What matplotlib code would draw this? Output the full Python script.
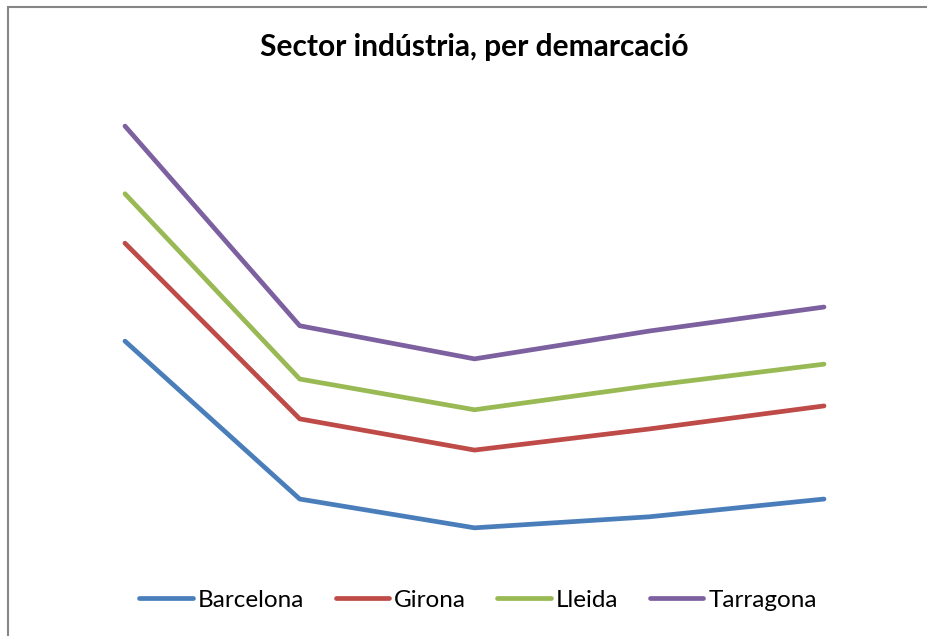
import matplotlib
matplotlib.use("Agg")
import matplotlib.pyplot as plt
from matplotlib.patches import Rectangle

categories = ["1", "2", "3", "4", "5"]
barcelona = [45.6, 12.7, 6.7, 9.0, 12.7]
girona = [66.0, 29.4, 22.9, 27.3, 32.1]
lleida = [76.3, 37.7, 31.3, 36.3, 40.8]
tarragona = [90.4, 48.8, 41.9, 47.7, 52.7]
series_names = ["Barcelona", "Girona", "Lleida", "Tarragona"]
colors = ["#4A7EBB", "#BE4B48", "#98B954", "#7D60A0"]

W, H = 928, 636
fig = plt.figure(figsize=(W / 100, H / 100), dpi=100)
fig.patch.set_facecolor("white")

# chart border
fig.patches.append(Rectangle((7.5 / W, -0.1), 1.2, 1.1 - 6.5 / H,
                             transform=fig.transFigure, fill=False,
                             edgecolor="#868686", linewidth=1.5))

ax = fig.add_axes([37.6 / W, (H - 560) / H, (911.4 - 37.6) / W, 480 / H])
x = list(range(len(categories)))
for name, vals, c in zip(series_names, [barcelona, girona, lleida, tarragona], colors):
    ax.plot(x, vals, color=c, linewidth=3.4, solid_capstyle="round",
            solid_joinstyle="round", label=name)
ax.set_xlim(-0.5, 4.5)
ax.set_ylim(0, 100)
ax.axis("off")

fig.text(474 / W, 1 - 47 / H, "Sector indústria, per demarcació",
         ha="center", va="center", fontsize=21.5, fontweight="bold",
         family="Lato")

leg = fig.legend(loc="center", bbox_to_anchor=(478 / W, 1 - 600 / H),
                 ncol=4, frameon=False, prop={"family": "Lato", "size": 17.5},
                 handlelength=2.2, handletextpad=0.2, columnspacing=1.3)
for t in leg.get_texts():
    t.set_color("#000000")

fig.savefig("out.png", dpi=100)
